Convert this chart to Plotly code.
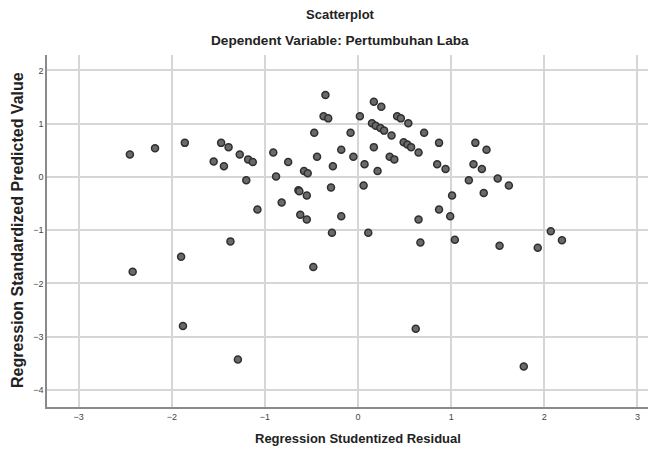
import plotly.graph_objects as go

x_resid = [-2.45, -2.18, -1.86, -1.47, -1.39, -1.55, -1.44, -1.27, -1.18, -1.13,
           -1.20, -1.08, -0.91, -0.88, -0.75, -0.82, -0.64, -0.63, -0.58, -0.54,
           -0.55, -0.62, -0.55, -0.47, -0.44, -0.35, -0.37, -0.32, -0.27, -0.29,
           -0.28, -0.18, -0.08, -0.05, -0.18, 0.11, 0.02, 0.07, 0.06, 0.17,
           0.25, 0.15, 0.19, 0.24, 0.28, 0.36, 0.17, 0.21, 0.42, 0.46,
           0.54, 0.49, 0.53, 0.57, 0.34, 0.39, 0.65, 0.71, 0.87, 0.85,
           0.94, 1.01, 0.87, 0.99, 0.65, 1.26, 1.38, 1.24, 1.33, 1.19,
           1.50, 1.62, 1.35, 2.07, -1.37, -1.90, -2.42, -0.48, -1.88, -1.29,
           0.67, 1.04, 1.52, 1.93, 2.19, 0.62, 1.78]
y_pred = [0.42, 0.54, 0.64, 0.64, 0.56, 0.29, 0.20, 0.42, 0.33, 0.28,
          -0.06, -0.61, 0.46, 0.01, 0.28, -0.48, -0.25, -0.27, 0.11, 0.07,
          -0.35, -0.71, -0.80, 0.83, 0.38, 1.54, 1.14, 1.10, 0.20, -0.20,
          -1.05, 0.51, 0.83, 0.38, -0.74, -1.05, 1.14, 0.24, -0.16, 1.41,
          1.32, 1.01, 0.96, 0.92, 0.87, 0.78, 0.56, 0.11, 1.14, 1.10,
          1.01, 0.65, 0.61, 0.56, 0.38, 0.33, 0.46, 0.83, 0.64, 0.24,
          0.15, -0.35, -0.61, -0.74, -0.80, 0.64, 0.51, 0.24, 0.15, -0.06,
          -0.03, -0.16, -0.30, -1.02, -1.21, -1.50, -1.78, -1.69, -2.80, -3.43,
          -1.23, -1.18, -1.29, -1.33, -1.19, -2.85, -3.56]

x_ticks = [-3, -2, -1, 0, 1, 2, 3]
y_ticks = [2, 1, 0, -1, -2, -3, -4]

title_main = "Scatterplot"
title_sub = "Dependent Variable: Pertumbuhan Laba"
x_title = "Regression Studentized Residual"
y_title = "Regression Standardized Predicted Value"

# page has an 8px body margin; size the figure so it fills the 656x455 window
OFF = 8
W, H = 656 - OFF, 455 - OFF
L, R, T, B = 47 - OFF, 0, 55 - OFF, 48
pw, ph = W - L - R, H - T - B

FONT = "Liberation Sans Narrow, Arial Narrow, Liberation Sans, Arial, sans-serif"

fig = go.Figure()
fig.add_trace(go.Scatter(
    x=x_resid, y=y_pred, mode="markers",
    marker=dict(size=7, color="#6a6a6a", line=dict(color="#2f2f2f", width=1.5)),
    showlegend=False, hoverinfo="x+y",
))

def px_x(p):  # p in page pixels
    return (p - OFF - L) / pw

def px_y(p):
    return (H - B - (p - OFF)) / ph

fig.update_layout(
    width=W, height=H,
    margin=dict(l=L, r=R, t=T, b=B, pad=0),
    paper_bgcolor="white", plot_bgcolor="white",
    font=dict(family=FONT, color="#222"),
    xaxis=dict(range=[-3.34, 3.2], tickvals=x_ticks, showgrid=True,
               gridcolor="#d6d6d6", gridwidth=1.5, zeroline=False,
               showline=True, linecolor="#8a8a8a", linewidth=1.5,
               ticks="", tickfont=dict(size=9, color="#444"),
               automargin=False, fixedrange=True),
    yaxis=dict(range=[-4.32, 2.29], tickvals=y_ticks, showgrid=True,
               gridcolor="#d6d6d6", gridwidth=1.5, zeroline=False,
               showline=True, linecolor="#8a8a8a", linewidth=1.5,
               ticks="", tickfont=dict(size=9, color="#444"),
               automargin=False, fixedrange=True),
    annotations=[
        dict(text="<b>%s</b>" % title_main, xref="paper", yref="paper",
             x=px_x(340), y=px_y(14), xanchor="center", yanchor="middle",
             showarrow=False, font=dict(size=13, family=FONT, color="#222")),
        dict(text="<b>%s</b>" % title_sub, xref="paper", yref="paper",
             x=px_x(340), y=px_y(41), xanchor="center", yanchor="middle",
             showarrow=False, font=dict(size=13.6, family=FONT, color="#222")),
        dict(text="<b>%s</b>" % x_title, xref="paper", yref="paper",
             x=px_x(358), y=px_y(438), xanchor="center", yanchor="middle",
             showarrow=False, font=dict(size=13, family=FONT, color="#222")),
        dict(text="<b>%s</b>" % y_title, xref="paper", yref="paper",
             x=px_x(17), y=px_y(230), xanchor="center", yanchor="middle",
             textangle=-90, showarrow=False,
             font=dict(size=16, family=FONT, color="#222")),
    ],
)

fig.write_html("out.html")
